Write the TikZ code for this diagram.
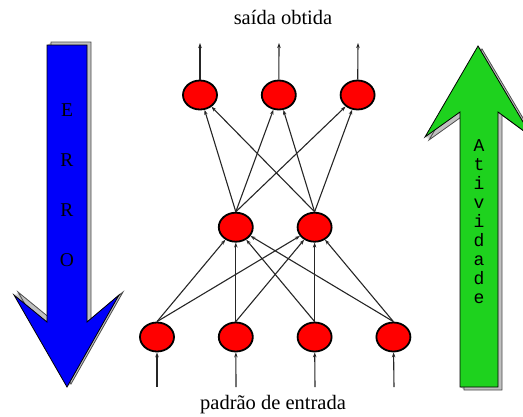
\documentclass[tikz,border=0pt]{standalone}
\usepackage{fontspec}
\setmainfont{Liberation Serif}
\newfontfamily\letterfont{Liberation Mono}
\usepackage{xcolor}
\usetikzlibrary{positioning, arrows.meta, shapes.geometric}
\definecolor{errorblue}{RGB}{0,0,250}
\definecolor{activegreen}{RGB}{30,210,30}
\definecolor{sidegray}{RGB}{192,192,192}
\tikzset{
    neuron/.style={
        ellipse, draw=black, line width=1.8pt,
        minimum width=34pt, minimum height=29pt,
        inner sep=0pt, fill=red
    },
    link/.style={
        ->, line width=1.1pt, draw=black!85
    },
    caption/.style={
        font=\fontsize{20.5}{24}\selectfont
    },
    side_face/.style={
        fill=sidegray, draw=black!70, line width=0.8pt
    },
    front_face/.style={
        draw=black, line width=0.8pt
    }
}
% outlines of the two big arrows
\def\erroshape{(47,45) -- (87,45) -- (87,322) -- (119,295) -- (67,387)
    -- (14,295) -- (47,322) -- cycle}
\def\ativshape{(460,387) -- (498,387) -- (498,112) -- (532,137) -- (478,46)
    -- (425,137) -- (460,112) -- cycle}

\begin{document}
\begin{tikzpicture}[
    x=1pt, y=-1pt,
    >={Stealth[length=5pt, width=3.5pt]}
]
\useasboundingbox (0,0) rectangle (523,416);
\clip (0,0) rectangle (523,416);

% ERRO arrow (down)
\fill[sidegray, shift={(1,-0.75)}] \erroshape;
\fill[sidegray, shift={(2,-1.5)}] \erroshape;
\fill[sidegray, shift={(3,-2.25)}] \erroshape;
\draw[side_face, shift={(4,-3)}] \erroshape;
\filldraw[front_face, fill=errorblue] \erroshape;
\node[align=center, font=\fontsize{19.5}{50}\selectfont] (erro) at (67,185) {E\\R\\R\\O};

% Atividade arrow (up)
\fill[sidegray, shift={(1,0.75)}] \ativshape;
\fill[sidegray, shift={(2,1.5)}] \ativshape;
\fill[sidegray, shift={(3,2.25)}] \ativshape;
\draw[side_face, shift={(4,3)}] \ativshape;
\filldraw[front_face, fill=activegreen] \ativshape;
\node[align=center, font=\letterfont\fontsize{18}{19}\selectfont] (ativ) at (479,222)
    {A\\t\\i\\v\\i\\d\\a\\d\\e};

% neurons
\node[neuron] (in1) at (157,337) {};
\node[neuron, right=43pt of in1] (in2) {};
\node[neuron, right=43pt of in2] (in3) {};
\node[neuron, right=43pt of in3] (in4) {};

\node[neuron, above=79pt of in2] (h1) {};
\node[neuron, above=79pt of in3] (h2) {};

\node[neuron] (o1) at (200,95) {};
\node[neuron, right=43pt of o1] (o2) {};
\node[neuron, right=43pt of o2] (o3) {};

% labels
\node[caption] (saida) at (283,17) {saída obtida};
\node[caption] (padrao) at (273,405) {padrão de entrada};

% free ends
\coordinate (x1) at (157,387);
\coordinate (x2) at (236,387);
\coordinate (x3) at (315,387);
\coordinate (x4) at (394,387);
\coordinate (y1) at (200,43);
\coordinate (y2) at (279,43);
\coordinate (y3) at (358,43);

\draw[link] (x1) -- (in1);
\draw[link] (x2) -- (in2);
\draw[link] (x3) -- (in3);
\draw[link] (x4) -- (in4);

\draw[link] (in1.north) -- (h1);
\draw[link] (in1.north) -- (h2);
\draw[link] (in2.north) -- (h1);
\draw[link] (in2.north) -- (h2);
\draw[link] (in3.north) -- (h1);
\draw[link] (in3.north) -- (h2);
\draw[link] (in4.north) -- (h1);
\draw[link] (in4.north) -- (h2);

\draw[link] (h1.north) -- (o1);
\draw[link] (h1.north) -- (o2);
\draw[link] (h1.north) -- (o3);
\draw[link] (h2.north) -- (o1);
\draw[link] (h2.north) -- (o2);
\draw[link] (h2.north) -- (o3);

\draw[link] (o1) -- (y1);
\draw[link] (o2) -- (y2);
\draw[link] (o3) -- (y3);

\end{tikzpicture}
\end{document}
